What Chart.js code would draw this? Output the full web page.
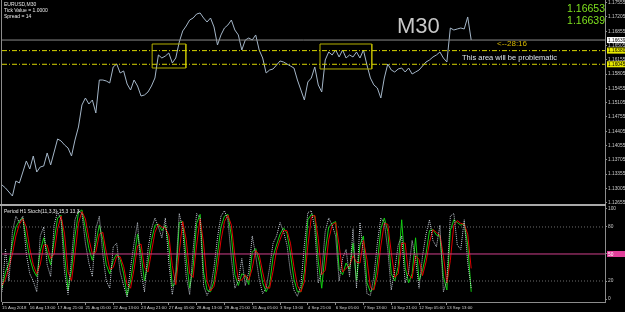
<!DOCTYPE html>
<html>
<head>
<meta charset="utf-8">
<script src="https://cdn.jsdelivr.net/npm/chart.js@4.4.1/dist/chart.umd.min.js"></script>
<style>
  html, body { margin: 0; padding: 0; background: #000; }
  canvas { display: block; }
</style>
</head>
<body>
<canvas id="chart" width="625" height="312"></canvas>
<script>
// one sample = 4 hours (8 M30 bars), one time label every 8 samples
const timeLabels = ['15 Aug 2018', '16 Aug 13:00', '17 Aug 21:00', '21 Aug 05:00', '22 Aug 13:00',
  '23 Aug 21:00', '27 Aug 05:00', '28 Aug 13:00', '29 Aug 21:00', '31 Aug 05:00', '3 Sep 13:00',
  '4 Sep 21:00', '6 Sep 05:00', '7 Sep 13:00', '10 Sep 21:00', '12 Sep 05:00', '13 Sep 13:00'];

const priceTicks = [1.17555, 1.17205, 1.16855, 1.16505, 1.16155, 1.15805, 1.15455, 1.15105,
  1.14755, 1.14405, 1.14055, 1.13705, 1.13355, 1.13005, 1.12655];
const stochTicks = [100, 80, 50, 20, 0];

const price = [
  1.13088, 1.13014, 1.12916, 1.12818, 1.13186, 1.13137, 1.13406, 1.13676, 1.13480, 1.13798,
  1.13406, 1.13529, 1.13553, 1.13872, 1.13578, 1.13896, 1.14215, 1.14166, 1.14068, 1.13994,
  1.13798, 1.14190, 1.14509, 1.15048, 1.15219, 1.15072, 1.15170, 1.14852, 1.15660, 1.15660,
  1.15636, 1.15587, 1.15979, 1.16052, 1.15832, 1.15881, 1.15562, 1.15415, 1.15660, 1.15513,
  1.15268, 1.15293, 1.15366, 1.15513, 1.15709, 1.16273, 1.16199, 1.16248, 1.16322, 1.16077,
  1.16199, 1.16591, 1.16861, 1.16983, 1.17130, 1.17179, 1.17277, 1.17302, 1.17179, 1.17081,
  1.17179, 1.16959, 1.16518, 1.16763, 1.16934, 1.17008, 1.17130, 1.16885, 1.16763, 1.16395,
  1.16640, 1.16689, 1.16640, 1.16763, 1.16395, 1.16199, 1.15832, 1.15905, 1.15930, 1.16028,
  1.16126, 1.16101, 1.16052, 1.16003, 1.15954, 1.15660, 1.15415, 1.15170, 1.15611, 1.15709,
  1.15979, 1.15538, 1.15366, 1.16150, 1.16346, 1.16273, 1.16395, 1.16224, 1.16395, 1.16199,
  1.16273, 1.16224, 1.16346, 1.16199, 1.16395, 1.16028, 1.15709, 1.15538, 1.15464, 1.15219,
  1.15709, 1.16052, 1.15905, 1.15856, 1.15930, 1.15954, 1.15856, 1.15954, 1.15807, 1.15856,
  1.15905, 1.16003, 1.16101, 1.16150, 1.16224, 1.16273, 1.16346, 1.16199, 1.16101, 1.16934,
  1.16885, 1.16910, 1.16934, 1.16910, 1.17204, 1.16640
];

const stochMain = [
  12, 30, 40, 62, 80, 87, 90, 66, 45, 32, 25, 53, 68, 52, 38, 65, 90, 93, 50, 10,
  32, 70, 96, 99, 78, 56, 43, 62, 82, 66, 38, 28, 43, 50, 44, 28, 4, 20, 46, 72,
  50, 20, 40, 65, 82, 83, 76, 82, 60, 14, 18, 85, 86, 45, 12, 36, 84, 94, 30, 10,
  8, 20, 50, 80, 92, 94, 70, 27, 15, 28, 26, 16, 52, 56, 42, 18, 8, 16, 47, 60,
  72, 79, 73, 50, 22, 8, 8, 30, 88, 94, 92, 42, 12, 53, 80, 84, 86, 33, 27, 40,
  33, 62, 20, 60, 70, 18, 8, 12, 40, 78, 90, 75, 28, 20, 36, 88, 35, 18, 28, 68,
  20, 32, 50, 76, 77, 71, 70, 25, 10, 76, 88, 85, 82, 84, 60, 8
];
const stochSignal = [
  15, 22, 35, 50, 70, 83, 89, 80, 56, 38, 28, 38, 60, 60, 45, 50, 78, 92, 72, 30,
  20, 50, 84, 97, 89, 67, 50, 52, 72, 74, 52, 33, 35, 47, 47, 36, 16, 12, 33, 59,
  61, 35, 30, 52, 74, 83, 80, 79, 71, 37, 16, 52, 86, 66, 28, 24, 60, 89, 62, 20,
  9, 14, 35, 65, 86, 93, 82, 48, 21, 21, 27, 21, 34, 54, 49, 30, 13, 12, 31, 54,
  66, 76, 76, 62, 36, 15, 8, 19, 59, 91, 93, 67, 27, 32, 66, 82, 85, 60, 30, 34,
  37, 48, 41, 40, 65, 44, 13, 10, 26, 59, 84, 83, 52, 24, 28, 62, 62, 27, 23, 48,
  44, 26, 41, 63, 77, 74, 71, 48, 18, 43, 82, 87, 84, 83, 72, 34
];
const stochFast = [
  8, 55, 20, 75, 92, 85, 92, 50, 28, 20, 8, 70, 80, 38, 25, 82, 97, 88, 30, 5,
  45, 88, 98, 95, 62, 40, 25, 78, 92, 50, 20, 12, 58, 62, 30, 15, 2, 35, 62, 85,
  30, 8, 55, 78, 90, 80, 68, 90, 40, 5, 30, 95, 78, 25, 5, 55, 95, 90, 15, 4,
  12, 35, 68, 92, 98, 88, 45, 12, 20, 45, 15, 30, 70, 48, 22, 6, 12, 35, 62, 70,
  85, 75, 60, 30, 10, 3, 15, 60, 96, 98, 78, 18, 30, 75, 90, 82, 70, 20, 45, 55,
  25, 78, 12, 85, 50, 6, 4, 25, 62, 90, 85, 55, 10, 32, 60, 70, 18, 30, 65, 45,
  12, 48, 72, 88, 65, 58, 82, 8, 20, 92, 95, 60, 55, 88, 40, 12
];

const bidPrice = 1.16639;
const askPrice = 1.16653;
const zoneTop = 1.16380;
const zoneBottom = 1.16045;
const boxStart = [43.2, 91.5];
const boxEnd = [52.9, 106.4];
const boxHigh = [1.16542, 1.16542];
const boxLow = [1.15954, 1.15930];

const xMax = 173.5;

const pts = arr => arr.map((v, i) => ({ x: i, y: v }));
const flat = v => [{ x: 0, y: v }, { x: xMax, y: v }];

const boxSets = boxStart.map((s, k) => ({
  data: [
    { x: s, y: boxHigh[k] }, { x: boxEnd[k], y: boxHigh[k] },
    { x: boxEnd[k], y: boxLow[k] }, { x: s, y: boxLow[k] }, { x: s, y: boxHigh[k] }
  ],
  yAxisID: 'yP', borderColor: '#b4b000', borderWidth: 1, pointRadius: 0, tension: 0
}));

const axisFont = { family: 'Liberation Sans', size: 4.8 };
const timeFont = { family: 'Liberation Sans', size: 4.3 };

const paint = {
  id: 'paint',
  beforeDraw(chart) {
    const { ctx, width, height } = chart;
    ctx.save();
    ctx.fillStyle = '#000';
    ctx.fillRect(0, 0, width, height);
    ctx.restore();
  },
  afterDraw(chart) {
    const { ctx, chartArea, scales } = chart;
    const yP = scales.yP, yS = scales.yS;
    ctx.save();
    ctx.strokeStyle = '#8c8c8c';
    ctx.lineWidth = 1;
    ctx.beginPath();
    ctx.moveTo(1.5, 0);
    ctx.lineTo(1.5, chartArea.bottom);
    ctx.stroke();
    ctx.fillStyle = '#a8a8a8';
    ctx.fillRect(0, yP.bottom - 1, chartArea.right + 1, 2);

    const tag = (scale, value, text, bg, fg) => {
      const y = scale.getPixelForValue(value);
      ctx.fillStyle = bg;
      ctx.fillRect(chartArea.right + 2, y - 3, 18, 6);
      ctx.fillStyle = fg;
      ctx.font = '4.8px "Liberation Sans"';
      ctx.textBaseline = 'middle';
      ctx.textAlign = 'left';
      ctx.fillText(text, chartArea.right + 3, y + 0.5);
    };
    tag(yP, bidPrice, bidPrice.toFixed(5), '#ffffff', '#000');
    tag(yP, zoneTop, zoneTop.toFixed(5), '#e8e800', '#000');
    tag(yP, zoneBottom, zoneBottom.toFixed(5), '#e8e800', '#000');
    tag(yS, 50, '50', '#e0409a', '#fff');

    ctx.textBaseline = 'alphabetic';
    ctx.textAlign = 'left';
    ctx.fillStyle = '#e8e8e8';
    ctx.font = '5px "Liberation Sans"';
    ctx.fillText('EURUSD,M30', 4, 6);
    ctx.fillText('Tick Value = 1.0000', 4, 12);
    ctx.fillText('Spread = 14', 4, 18);
    ctx.fillText('Period H1 Stoch(11,3,3) 15,3 13.3', 4, yS.top + 8);

    ctx.fillStyle = '#c8c8c8';
    ctx.font = '22px "Liberation Sans"';
    ctx.fillText('M30', 397, 33);

    ctx.fillStyle = '#7ee01e';
    ctx.font = '10.5px "Liberation Sans"';
    ctx.textAlign = 'right';
    ctx.fillText(askPrice.toFixed(5), 605, 12);
    ctx.fillText(bidPrice.toFixed(5), 605, 24);

    ctx.textAlign = 'left';
    ctx.fillStyle = '#d8b800';
    ctx.font = '8px "Liberation Sans"';
    ctx.fillText('<--28:16', 497, yP.getPixelForValue(bidPrice) + 6);
    ctx.fillStyle = '#dce4ec';
    ctx.font = '7.5px "Liberation Sans"';
    ctx.fillText('This area will be problematic', 462, 60);
    ctx.restore();
  }
};

new Chart(document.getElementById('chart'), {
  type: 'line',
  data: {
    datasets: [
      { data: flat(bidPrice), yAxisID: 'yP', borderColor: '#8a8a8a', borderWidth: 1, pointRadius: 0 },
      { data: flat(zoneTop), yAxisID: 'yP', borderColor: '#d8d400', borderWidth: 1, pointRadius: 0, borderDash: [5, 2, 1, 2] },
      { data: flat(zoneBottom), yAxisID: 'yP', borderColor: '#d8d400', borderWidth: 1, pointRadius: 0, borderDash: [5, 2, 1, 2] },
      ...boxSets,
      { data: pts(price), yAxisID: 'yP', borderColor: '#a4b6c8', borderWidth: 1, pointRadius: 0, tension: 0 },
      { data: flat(80), yAxisID: 'yS', borderColor: '#6e6e6e', borderWidth: 1, pointRadius: 0, borderDash: [1, 2] },
      { data: flat(20), yAxisID: 'yS', borderColor: '#6e6e6e', borderWidth: 1, pointRadius: 0, borderDash: [1, 2] },
      { data: flat(50), yAxisID: 'yS', borderColor: '#d0408c', borderWidth: 1, pointRadius: 0 },
      { data: pts(stochFast), yAxisID: 'yS', borderColor: '#c4ccd6', borderWidth: 1, pointRadius: 0, borderDash: [1, 1] },
      { data: pts(stochSignal), yAxisID: 'yS', borderColor: '#e00000', borderWidth: 1, pointRadius: 0 },
      { data: pts(stochMain), yAxisID: 'yS', borderColor: '#10d010', borderWidth: 1, pointRadius: 0 }
    ]
  },
  options: {
    responsive: false,
    animation: false,
    devicePixelRatio: 1,
    layout: { padding: { left: 2, right: 0, top: 0, bottom: 0 } },
    plugins: { legend: { display: false }, tooltip: { enabled: false } },
    scales: {
      x: {
        type: 'linear', min: 0, max: xMax,
        afterBuildTicks: s => { s.ticks = timeLabels.map((_, k) => ({ value: k * 8 })); },
        afterFit: s => { s.height = 10; s.paddingLeft = 0; s.paddingRight = 0; },
        ticks: {
          autoSkip: false, maxRotation: 0, align: 'start', padding: 0,
          color: '#d0d0d0', font: timeFont,
          callback: v => timeLabels[Math.round(v / 8)]
        },
        grid: { drawOnChartArea: false, drawTicks: true, tickLength: 3, color: '#8c8c8c' },
        border: { display: true, color: '#8c8c8c' }
      },
      yP: {
        type: 'linear', position: 'right', stack: 'panes', stackWeight: 205,
        min: 1.125975, max: 1.17620,
        afterBuildTicks: s => { s.ticks = priceTicks.map(v => ({ value: v })); },
        afterFit: s => { s.width = 20; s.paddingTop = 0; s.paddingBottom = 0; },
        ticks: { autoSkip: false, color: '#c8c8c8', font: axisFont, padding: 1, callback: v => v.toFixed(5) },
        grid: { drawOnChartArea: false, drawTicks: true, tickLength: 2, color: '#8c8c8c' },
        border: { display: true, color: '#8c8c8c' }
      },
      yS: {
        type: 'linear', position: 'right', stack: 'panes', stackWeight: 97,
        min: -3.3, max: 104.4,
        afterBuildTicks: s => { s.ticks = stochTicks.map(v => ({ value: v })); },
        afterFit: s => { s.width = 20; s.paddingTop = 0; s.paddingBottom = 0; },
        ticks: { autoSkip: false, color: '#c8c8c8', font: axisFont, padding: 1 },
        grid: { drawOnChartArea: false, drawTicks: true, tickLength: 2, color: '#8c8c8c' },
        border: { display: true, color: '#8c8c8c' }
      }
    }
  },
  plugins: [paint]
});
</script>
</body>
</html>
